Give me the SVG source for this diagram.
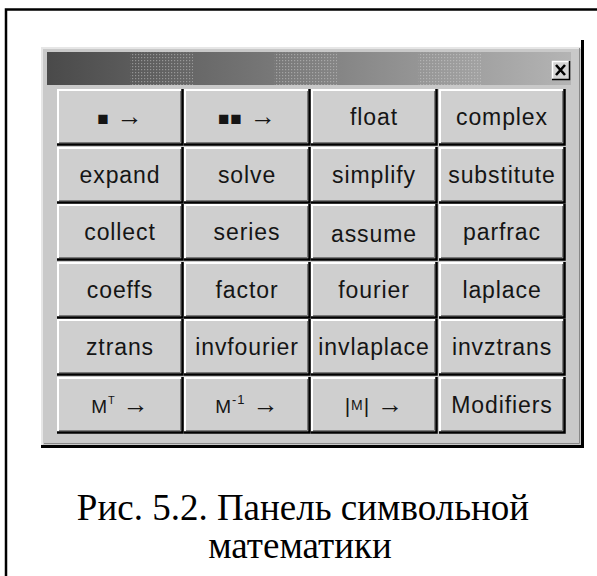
<svg xmlns="http://www.w3.org/2000/svg" xmlns:xlink="http://www.w3.org/1999/xlink" width="597" height="576" viewBox="0 0 597 576">
<style>
.lbl{font-family:"Liberation Sans",Arial,sans-serif;font-size:23px;letter-spacing:0.9px;fill:#151515;text-anchor:middle}
.ar{font-size:26px;letter-spacing:0}
.cap{font-family:"Liberation Serif","Times New Roman",serif;font-size:37px;fill:#000;text-anchor:middle}
.face{fill:#cfcfcf}
.hl{fill:none;stroke:#fff;stroke-width:2}
.sh{fill:none;stroke:#000;stroke-width:2.5}
.sh2{fill:none;stroke:#7a7a7a;stroke-width:1}
</style>
<defs>
<g id="btn">
<rect class="face" x="0" y="0" width="126" height="56"/>
<path class="sh2" d="M2,53.5 H123.5 V2"/>
<path class="hl" d="M1,55 V1 H125"/>
<path class="sh" d="M0,55.5 H125.5 V0"/>
</g>
<linearGradient id="tg" x1="0" y1="0" x2="1" y2="0">
<stop offset="0" stop-color="#4a4a4a"/>
<stop offset="1" stop-color="#b4b4b4"/>
</linearGradient>
<pattern id="dith" width="3" height="3" patternUnits="userSpaceOnUse">
<rect x="0" y="0" width="1.2" height="1.2" fill="#d8d8d8" fill-opacity="0.45"/>
</pattern>
</defs>
<rect width="597" height="576" fill="#fff"/>
<rect x="6" y="9.5" width="600" height="580" fill="none" stroke="#000" stroke-width="2.5"/>
<g id="panel">
<rect x="41" y="47" width="543" height="401" fill="#c9c9c9"/>
<path d="M42,447 V48 H583" fill="none" stroke="#e6e6e6" stroke-width="2"/>
<path d="M41,446.5 H582.5 V40" fill="none" stroke="#000" stroke-width="3"/>
<path d="M44,443.5 H579.5 V48" fill="none" stroke="#888" stroke-width="1"/>
</g>
<g id="titlebar">
<rect x="47" y="52" width="524" height="33" fill="url(#tg)"/>
<rect x="130" y="52" width="63" height="33" fill="url(#dith)"/>
<rect x="274" y="52" width="63" height="33" fill="url(#dith)"/>
<rect x="418" y="52" width="63" height="33" fill="url(#dith)"/>
<g id="close">
<rect x="552" y="61" width="17" height="18" fill="#d4d4d4"/>
<path d="M552.5,79 V61.5 H569" fill="none" stroke="#fff" stroke-width="1.5"/>
<path d="M552,79.5 H569.5 V61" fill="none" stroke="#000" stroke-width="1.5"/>
<path d="M556,65 L565,75 M565,65 L556,75" stroke="#000" stroke-width="2.6"/>
</g>
</g>
<g id="n-eval1"><use href="#btn" x="57" y="89"/><text class="lbl" x="120" y="125"><tspan font-size="19">■</tspan> <tspan class="ar">→</tspan></text></g>
<g id="n-eval2"><use href="#btn" x="184" y="89"/><text class="lbl" x="247" y="125"><tspan font-size="19">■■</tspan> <tspan class="ar">→</tspan></text></g>
<g id="n-float"><use href="#btn" x="311" y="89"/><text class="lbl" x="374" y="125">float</text></g>
<g id="n-complex"><use href="#btn" x="439" y="89"/><text class="lbl" x="502" y="125">complex</text></g>

<g id="n-expand"><use href="#btn" x="57" y="147"/><text class="lbl" x="120" y="183">expand</text></g>
<g id="n-solve"><use href="#btn" x="184" y="147"/><text class="lbl" x="247" y="183">solve</text></g>
<g id="n-simplify"><use href="#btn" x="311" y="147"/><text class="lbl" x="374" y="183">simplify</text></g>
<g id="n-substitute"><use href="#btn" x="439" y="147"/><text class="lbl" x="502" y="183">substitute</text></g>

<g id="n-collect"><use href="#btn" x="57" y="204"/><text class="lbl" x="120" y="240">collect</text></g>
<g id="n-series"><use href="#btn" x="184" y="204"/><text class="lbl" x="247" y="240">series</text></g>
<g id="n-assume"><use href="#btn" x="311" y="204"/><text class="lbl" x="374" y="242">assume</text></g>
<g id="n-parfrac"><use href="#btn" x="439" y="204"/><text class="lbl" x="502" y="240">parfrac</text></g>

<g id="n-coeffs"><use href="#btn" x="57" y="262"/><text class="lbl" x="120" y="298">coeffs</text></g>
<g id="n-factor"><use href="#btn" x="184" y="262"/><text class="lbl" x="247" y="298">factor</text></g>
<g id="n-fourier"><use href="#btn" x="311" y="262"/><text class="lbl" x="374" y="298">fourier</text></g>
<g id="n-laplace"><use href="#btn" x="439" y="262"/><text class="lbl" x="502" y="298">laplace</text></g>

<g id="n-ztrans"><use href="#btn" x="57" y="319"/><text class="lbl" x="120" y="355">ztrans</text></g>
<g id="n-invfourier"><use href="#btn" x="184" y="319"/><text class="lbl" x="247" y="355">invfourier</text></g>
<g id="n-invlaplace"><use href="#btn" x="311" y="319"/><text class="lbl" x="374" y="355">invlaplace</text></g>
<g id="n-invztrans"><use href="#btn" x="439" y="319"/><text class="lbl" x="502" y="355">invztrans</text></g>

<g id="n-transpose"><use href="#btn" x="57" y="377"/><text class="lbl" x="120" y="413"><tspan font-size="19">M</tspan><tspan font-size="11" dy="-9">T</tspan><tspan dy="9"> </tspan><tspan class="ar">→</tspan></text></g>
<g id="n-inverse"><use href="#btn" x="184" y="377"/><text class="lbl" x="247" y="413"><tspan font-size="19">M</tspan><tspan font-size="13" dy="-9">-1</tspan><tspan dy="9"> </tspan><tspan class="ar">→</tspan></text></g>
<g id="n-det"><use href="#btn" x="311" y="377"/><text class="lbl" x="374" y="413"><tspan font-size="21">|</tspan><tspan font-size="14" dy="-3">M</tspan><tspan font-size="21" dy="3">|</tspan> <tspan class="ar">→</tspan></text></g>
<g id="n-modifiers"><use href="#btn" x="439" y="377"/><text class="lbl" x="502" y="413">Modifiers</text></g>

<g id="connectors"></g>
<g id="caption">
<text class="cap" x="303" y="520">Рис. 5.2. Панель символьной</text>
<text class="cap" x="300" y="558">математики</text>
</g>
</svg>
